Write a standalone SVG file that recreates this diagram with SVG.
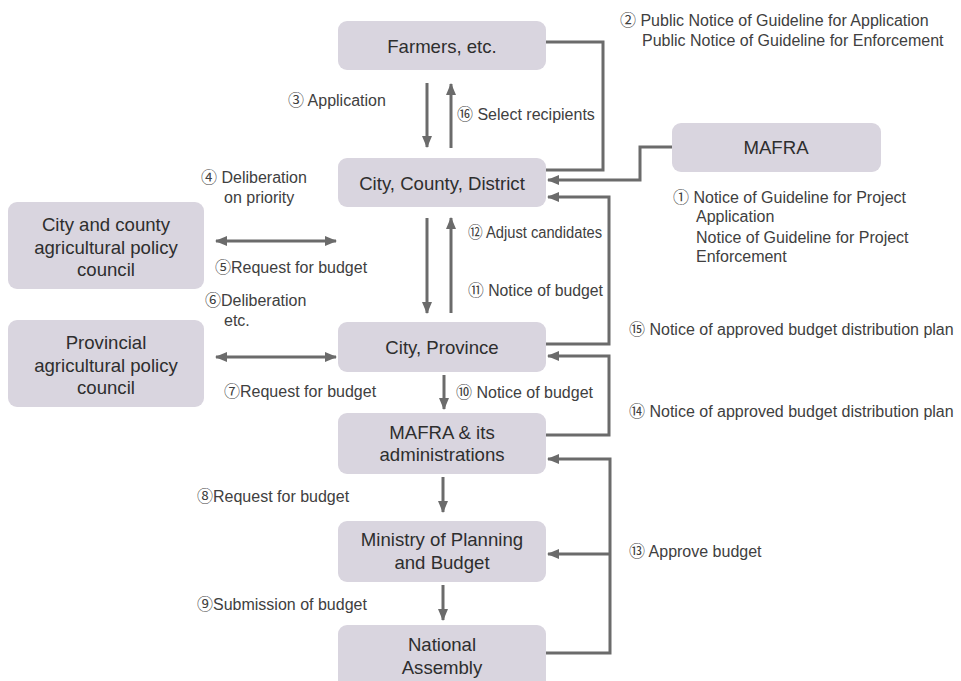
<svg xmlns="http://www.w3.org/2000/svg" width="961" height="681" viewBox="0 0 961 681">
<style>
.node rect{fill:#d9d5df;}
.nt{font-family:"Liberation Sans","Noto Sans CJK JP",sans-serif;font-size:18.6px;fill:#2e2e2e;text-anchor:middle;}
.lb{font-family:"Liberation Sans","Noto Sans CJK JP",sans-serif;font-size:16px;fill:#404040;}
.c{fill:none;stroke:#6b6b6b;stroke-width:3;}
</style>
<defs>
<marker id="ah" markerUnits="userSpaceOnUse" markerWidth="12" markerHeight="12" viewBox="0 0 12 12" refX="11" refY="6" orient="auto-start-reverse">
<path d="M0,1 L12,6 L0,11 z" fill="#6b6b6b"/>
</marker>
</defs>
<rect width="961" height="681" fill="#ffffff"/>

<g id="farmers" class="node"><rect x="338" y="21" width="208" height="49" rx="9"/><text class="nt" x="442" y="53">Farmers, etc.</text></g>
<g id="ccd" class="node"><rect x="338" y="158" width="208" height="49" rx="9"/><text class="nt" x="442" y="190">City, County, District</text></g>
<g id="mafra" class="node"><rect x="672" y="123" width="209" height="49" rx="9"/><text class="nt" x="776" y="154">MAFRA</text></g>
<g id="cccouncil" class="node"><rect x="8" y="202" width="196" height="87" rx="9"/><text class="nt" x="106" y="231">City and county</text><text class="nt" x="106" y="254">agricultural policy</text><text class="nt" x="106" y="276">council</text></g>
<g id="provcouncil" class="node"><rect x="8" y="320" width="196" height="87" rx="9"/><text class="nt" x="106" y="349">Provincial</text><text class="nt" x="106" y="372">agricultural policy</text><text class="nt" x="106" y="394">council</text></g>
<g id="cityprov" class="node"><rect x="338" y="322" width="208" height="50" rx="9"/><text class="nt" x="442" y="354">City, Province</text></g>
<g id="mafraadm" class="node"><rect x="338" y="413" width="208" height="61" rx="9"/><text class="nt" x="442" y="439">MAFRA &amp; its</text><text class="nt" x="442" y="461">administrations</text></g>
<g id="mpb" class="node"><rect x="338" y="521" width="208" height="61" rx="9"/><text class="nt" x="442" y="546">Ministry of Planning</text><text class="nt" x="442" y="569">and Budget</text></g>
<g id="na" class="node"><rect x="338" y="625" width="208" height="70" rx="9"/><text class="nt" x="442" y="651">National</text><text class="nt" x="442" y="674">Assembly</text></g>

<g id="connectors">
<polyline class="c" points="546,42 603,42 603,170 546,170"/>
<polyline class="c" points="672,147 640,147 640,180 548,180" marker-end="url(#ah)"/>
<line class="c" x1="427" y1="83" x2="427" y2="147" marker-end="url(#ah)"/>
<line class="c" x1="451" y1="148" x2="451" y2="84" marker-end="url(#ah)"/>
<line class="c" x1="427" y1="218" x2="427" y2="313" marker-end="url(#ah)"/>
<line class="c" x1="451" y1="313" x2="451" y2="218" marker-end="url(#ah)"/>
<line class="c" x1="216" y1="241" x2="336" y2="241" marker-start="url(#ah)" marker-end="url(#ah)"/>
<line class="c" x1="216" y1="357" x2="336" y2="357" marker-start="url(#ah)" marker-end="url(#ah)"/>
<polyline class="c" points="546,344 609,344 609,197 548,197" marker-end="url(#ah)"/>
<polyline class="c" points="546,435 609,435 609,356 548,356" marker-end="url(#ah)"/>
<line class="c" x1="444" y1="375" x2="444" y2="409" marker-end="url(#ah)"/>
<line class="c" x1="443" y1="477" x2="443" y2="512" marker-end="url(#ah)"/>
<line class="c" x1="443" y1="585" x2="443" y2="620" marker-end="url(#ah)"/>
<polyline class="c" points="546,653 610,653 610,459 548,459" marker-end="url(#ah)"/>
<line class="c" x1="610" y1="554" x2="548" y2="554" marker-end="url(#ah)"/>
</g>

<g id="labels">
<text class="lb" x="288" y="106">③ Application</text>
<text class="lb" x="457" y="120">⑯ Select recipients</text>
<text class="lb" x="620" y="26">② Public Notice of Guideline for Application</text>
<text class="lb" x="642" y="46">Public Notice of Guideline for Enforcement</text>
<text class="lb" x="673" y="203">① Notice of Guideline for Project</text>
<text class="lb" x="696" y="222">Application</text>
<text class="lb" x="696" y="243">Notice of Guideline for Project</text>
<text class="lb" x="696" y="262">Enforcement</text>
<text class="lb" x="201" y="183">④ Deliberation</text>
<text class="lb" x="224" y="203">on priority</text>
<text class="lb" x="215" y="273">⑤Request for budget</text>
<text class="lb" x="205" y="306">⑥Deliberation</text>
<text class="lb" x="224" y="326">etc.</text>
<text class="lb" x="224" y="397">⑦Request for budget</text>
<text class="lb" x="468" y="238" textLength="134" lengthAdjust="spacingAndGlyphs">⑫ Adjust candidates</text>
<text class="lb" x="468" y="296" textLength="135" lengthAdjust="spacingAndGlyphs">⑪ Notice of budget</text>
<text class="lb" x="456" y="398">⑩ Notice of budget</text>
<text class="lb" x="629" y="335">⑮ Notice of approved budget distribution plan</text>
<text class="lb" x="629" y="417">⑭ Notice of approved budget distribution plan</text>
<text class="lb" x="197" y="502">⑧Request for budget</text>
<text class="lb" x="197" y="610">⑨Submission of budget</text>
<text class="lb" x="629" y="557">⑬ Approve budget</text>
</g>
</svg>
